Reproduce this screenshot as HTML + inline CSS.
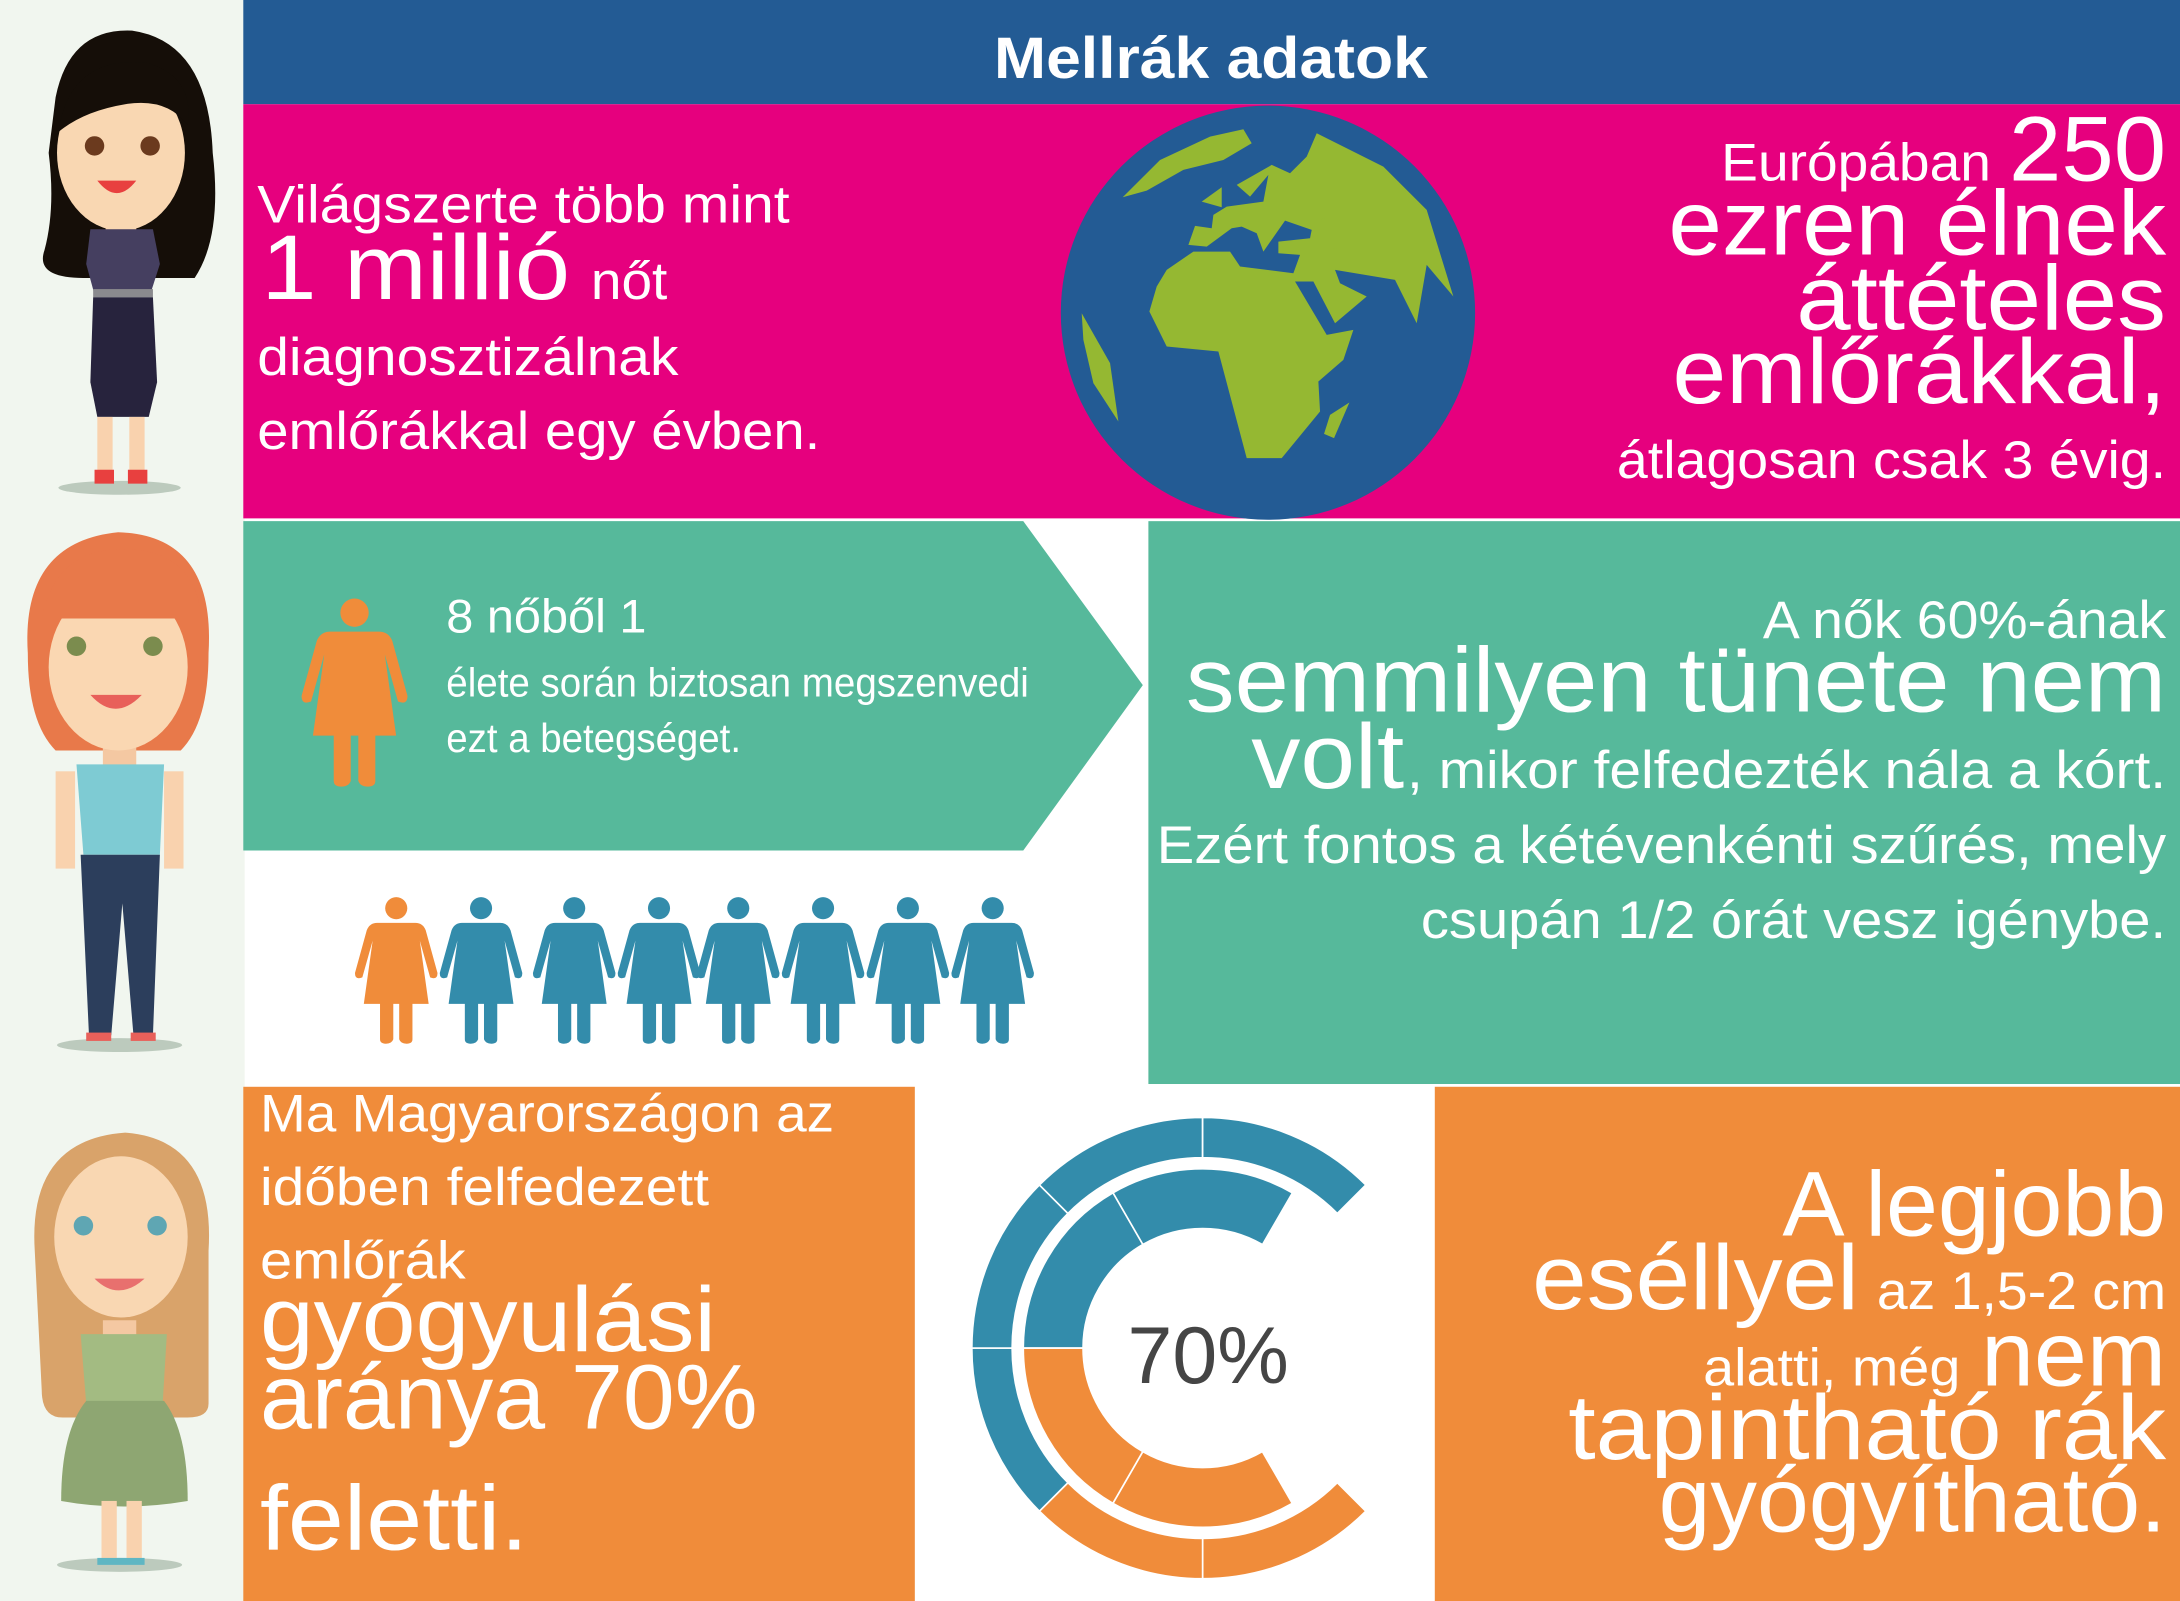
<!DOCTYPE html>
<html><head><meta charset="utf-8">
<style>
html,body{margin:0;padding:0;background:#fff;}
svg{display:block;}
text{font-family:"Liberation Sans",sans-serif;fill:#fff;}
</style></head>
<body>
<svg id="root" width="2180" height="1601" viewBox="0 0 1568 1152" preserveAspectRatio="none" xmlns="http://www.w3.org/2000/svg">
<!-- left column -->
<rect x="0" y="0" width="176" height="1152" fill="#f1f6ef"/>
<!-- header -->
<rect x="175" y="0" width="1393" height="75" fill="#235b94"/>
<text x="871" y="56" font-size="42" font-weight="bold" text-anchor="middle" textLength="312" lengthAdjust="spacingAndGlyphs">Mellrák adatok</text>
<!-- pink section -->
<rect x="175" y="75" width="1393" height="298" fill="#e6007e"/>
<g>
<text x="185" y="160" font-size="38" textLength="383" lengthAdjust="spacingAndGlyphs">Világszerte több mint</text>
<text x="188" y="215" font-size="66" textLength="222" lengthAdjust="spacingAndGlyphs">1 millió</text>
<text x="425" y="215" font-size="38" textLength="55" lengthAdjust="spacingAndGlyphs">nőt</text>
<text x="185" y="270" font-size="38" textLength="303" lengthAdjust="spacingAndGlyphs">diagnosztizálnak</text>
<text x="185" y="323" font-size="38" textLength="405" lengthAdjust="spacingAndGlyphs">emlőrákkal egy évben.</text>
</g>
<g>
<circle cx="912" cy="225" r="149" fill="#235b94"/>
<g transform="scale(0.7193) translate(1050,100) scale(0.3333)" fill="#95b832">
<polygon points="430,455 540,455 570,500 730,520 750,465 685,460 685,425 780,415 785,390 705,362 640,455 620,400 575,380 545,385 470,440 415,435 435,378 485,385 490,345 530,320 640,305 655,225 600,290 560,255 665,195 720,220 770,170 800,100 1000,200 1130,330 1210,590 1130,495 1100,670 1035,540 855,510 870,550 950,590 855,670 790,545 735,545 830,705 910,690 880,780 805,845 810,935 695,1075 590,1075 505,755 350,740 298,635 320,560 350,510"/>
<polygon points="218,292 290,272 400,210 520,180 605,130 580,88 480,110 330,180"/>
<polygon points="455,305 515,262 515,322"/>
<polygon points="95,640 180,790 205,965 130,850 100,720"/>
<polygon points="840,945 898,908 852,1015 822,1002"/>
<polygon points="808,360 835,352 878,440 850,447"/>
</g>
</g>
<g text-anchor="end">
<text x="1432" y="130" font-size="38" textLength="194" lengthAdjust="spacingAndGlyphs">Európában</text>
<text x="1558" y="130" font-size="66" textLength="113" lengthAdjust="spacingAndGlyphs">250</text>
<text x="1558" y="183" font-size="66" textLength="358" lengthAdjust="spacingAndGlyphs">ezren élnek</text>
<text x="1558" y="237" font-size="66" textLength="266" lengthAdjust="spacingAndGlyphs">áttételes</text>
<text x="1558" y="290" font-size="66" textLength="355" lengthAdjust="spacingAndGlyphs">emlőrákkal,</text>
<text x="1558" y="344" font-size="38" textLength="395" lengthAdjust="spacingAndGlyphs">átlagosan csak 3 évig.</text>
</g>
<!-- teal arrow -->
<polygon points="175,375 736,375 822,493 736,612 175,612" fill="#56b99b"/>
<rect x="826" y="375" width="742" height="405" fill="#56b99b"/>
<g>
<text x="321" y="455" font-size="34" textLength="144" lengthAdjust="spacingAndGlyphs">8 nőből 1</text>
<text x="321" y="501" font-size="29" textLength="419" lengthAdjust="spacingAndGlyphs">élete során biztosan megszenvedi</text>
<text x="321" y="541" font-size="29" textLength="212" lengthAdjust="spacingAndGlyphs">ezt a betegséget.</text>
</g>
<g id="icons"></g>
<g text-anchor="end">
<text x="1558" y="459" font-size="38" textLength="290" lengthAdjust="spacingAndGlyphs">A nők 60%-ának</text>
<text x="1558" y="512" font-size="66" textLength="705" lengthAdjust="spacingAndGlyphs">semmilyen tünete nem</text>
<text x="1010" y="567" font-size="66" textLength="110" lengthAdjust="spacingAndGlyphs">volt</text>
<text x="1558" y="567" font-size="38" textLength="546" lengthAdjust="spacingAndGlyphs">, mikor felfedezték nála a kórt.</text>
<text x="1558" y="621" font-size="38" textLength="726" lengthAdjust="spacingAndGlyphs">Ezért fontos a kétévenkénti szűrés, mely</text>
<text x="1558" y="675" font-size="38" textLength="536" lengthAdjust="spacingAndGlyphs">csupán 1/2 órát vesz igénybe.</text>
</g>
<!-- bottom -->
<rect x="175" y="782" width="483" height="370" fill="#f08c3a"/>
<rect x="1032" y="782" width="536" height="370" fill="#f08c3a"/>
<g>
<text x="187" y="814" font-size="38" textLength="413" lengthAdjust="spacingAndGlyphs">Ma Magyarországon az</text>
<text x="187" y="867" font-size="38" textLength="323" lengthAdjust="spacingAndGlyphs">időben felfedezett</text>
<text x="187" y="920" font-size="38" textLength="148" lengthAdjust="spacingAndGlyphs">emlőrák</text>
<text x="187" y="972" font-size="66" textLength="328" lengthAdjust="spacingAndGlyphs">gyógyulási</text>
<text x="187" y="1028" font-size="66" textLength="358" lengthAdjust="spacingAndGlyphs">aránya 70%</text>
<text x="187" y="1115" font-size="66" textLength="193" lengthAdjust="spacingAndGlyphs">feletti.</text>
</g>
<g text-anchor="end">
<text x="1558" y="889" font-size="66" textLength="276" lengthAdjust="spacingAndGlyphs">A legjobb</text>
<text x="1337" y="942" font-size="66" textLength="235" lengthAdjust="spacingAndGlyphs">eséllyel</text>
<text x="1558" y="942" font-size="38" textLength="208" lengthAdjust="spacingAndGlyphs">az 1,5-2 cm</text>
<text x="1410" y="997" font-size="38" textLength="185" lengthAdjust="spacingAndGlyphs">alatti, még</text>
<text x="1558" y="997" font-size="66" textLength="133" lengthAdjust="spacingAndGlyphs">nem</text>
<text x="1558" y="1050" font-size="66" textLength="430" lengthAdjust="spacingAndGlyphs">tapintható rák</text>
<text x="1558" y="1102" font-size="66" textLength="365" lengthAdjust="spacingAndGlyphs">gyógyítható.</text>
</g>
<g id="donut"></g>
<text x="869" y="995" font-size="58" text-anchor="middle" style="fill:#454545">70%</text>

<!-- person 1 -->
<g>
<ellipse cx="86" cy="351" rx="44" ry="5" fill="#bccabd"/>
<path d="M40,70 Q50,20 95,22 Q150,30 153,110 Q160,170 140,200 L120,200 L60,200 Q25,200 32,180 Q40,150 35,110 Z" fill="#150e08"/>
<rect x="76" y="145" width="22" height="30" fill="#f4c8a2"/>
<ellipse cx="87" cy="110" rx="46" ry="56" fill="#f9d7b2"/>
<path d="M42,95 Q50,40 105,45 Q140,55 135,90 Q120,70 90,75 Q60,80 42,95Z" fill="#150e08"/>
<circle cx="68" cy="105" r="7" fill="#6b3a1e"/><circle cx="108" cy="105" r="7" fill="#6b3a1e"/>
<path d="M70,130 Q84,148 98,130 Z" fill="#e8403f"/>
<path d="M65,165 L110,165 L115,190 L108,212 L68,212 L62,190 Z" fill="#453f60"/>
<rect x="67" y="208" width="43" height="6" fill="#8a8a8e"/>
<path d="M67,214 L110,214 L113,275 L107,300 L70,300 L65,275 Z" fill="#27233d"/>
<rect x="70" y="300" width="11" height="42" fill="#f9d2ae"/><rect x="93" y="300" width="11" height="42" fill="#f9d2ae"/>
<rect x="68" y="338" width="14" height="10" fill="#e8403f"/><rect x="92" y="338" width="14" height="10" fill="#e8403f"/>
</g>
<!-- person 2 -->
<g>
<ellipse cx="86" cy="752" rx="45" ry="5" fill="#bccabd"/>
<path d="M20,470 Q15,390 85,383 Q155,385 150,470 Q150,520 130,540 L40,540 Q20,520 20,470Z" fill="#e8794a"/>
<rect x="74" y="530" width="24" height="25" fill="#f4c8a2"/>
<ellipse cx="85" cy="480" rx="50" ry="60" fill="#fad7b2"/>
<path d="M30,445 Q40,395 88,395 Q140,395 145,445 Z" fill="#e8794a"/>
<circle cx="55" cy="465" r="7" fill="#7b8c4e"/><circle cx="110" cy="465" r="7" fill="#7b8c4e"/>
<path d="M65,500 Q83,520 102,500 Z" fill="#e8605a"/>
<path d="M55,550 L118,550 L115,615 L60,615 Z" fill="#7ecbd3"/>
<rect x="40" y="555" width="14" height="70" fill="#f9d2ae"/><rect x="118" y="555" width="14" height="70" fill="#f9d2ae"/>
<path d="M58,615 L115,615 L110,745 L96,745 L88,650 L80,745 L64,745 Z" fill="#2c3e5c"/>
<rect x="62" y="743" width="18" height="6" fill="#e8605a"/><rect x="94" y="743" width="18" height="6" fill="#e8605a"/>
</g>
<!-- person 3 -->
<g>
<ellipse cx="86" cy="1126" rx="45" ry="5" fill="#bccabd"/>
<path d="M25,900 Q20,820 90,815 Q155,820 150,900 L150,1010 Q150,1020 135,1020 L45,1020 Q30,1020 30,1000 Z" fill="#d9a36a"/>
<rect x="74" y="950" width="24" height="30" fill="#f4c8a2"/>
<ellipse cx="87" cy="890" rx="48" ry="58" fill="#f9d7b2"/>
<circle cx="60" cy="882" r="7" fill="#5fa6b3"/><circle cx="113" cy="882" r="7" fill="#5fa6b3"/>
<path d="M68,920 Q85,937 104,920 Z" fill="#e8706e"/>
<path d="M58,960 L120,960 L117,1010 L62,1010 Z" fill="#a3bb82"/>
<path d="M62,1008 L118,1008 Q135,1030 135,1080 Q88,1088 44,1080 Q44,1030 62,1008Z" fill="#8ea672"/>
<rect x="73" y="1080" width="11" height="44" fill="#f9d2ae"/><rect x="91" y="1080" width="11" height="44" fill="#f9d2ae"/>
<rect x="70" y="1121" width="34" height="5" fill="#5fb6c3"/>
</g>
</svg>
<script>
// ---- icon data ----
const iconColors = ['#f08c3a','#338cab','#338cab','#338cab','#338cab','#338cab','#338cab','#338cab'];
const iconCenters = [285,346,413,474,531,592,653,714];
// ---- donut data (percent of full circle) ----
const outerValues = [12.5,12.5,12.5,12.5,12.5,12.5];
const outerColors = ['#f08c3a','#f08c3a','#338cab','#338cab','#338cab','#338cab'];
const innerValues = [16.67,16.67,16.67,16.67];
const innerColors = ['#f08c3a','#f08c3a','#338cab','#338cab'];
const centerLabel = ['70%'];

const NS='http://www.w3.org/2000/svg';
function iconPath(cx,top,h){
  const s=h/100, X=v=>cx+v*s, Y=v=>top+v*s;
  return `M${X(-13)},${Y(18)} L${X(13)},${Y(18)} Q${X(18)},${Y(18)} ${X(20)},${Y(23)} L${X(28)},${Y(52)} Q${X(28)},${Y(57)} ${X(23)},${Y(55)} L${X(16)},${Y(30)} L${X(22)},${Y(73)} L${X(11)},${Y(73)} L${X(11)},${Y(97)} Q${X(11)},${Y(100)} ${X(7)},${Y(100)} Q${X(3)},${Y(100)} ${X(2)},${Y(97)} L${X(2)},${Y(73)} L${X(-2)},${Y(73)} L${X(-2)},${Y(97)} Q${X(-3)},${Y(100)} ${X(-7)},${Y(100)} Q${X(-11)},${Y(100)} ${X(-11)},${Y(97)} L${X(-11)},${Y(73)} L${X(-22)},${Y(73)} L${X(-16)},${Y(30)} L${X(-23)},${Y(55)} Q${X(-28)},${Y(57)} ${X(-28)},${Y(52)} L${X(-20)},${Y(23)} Q${X(-18)},${Y(18)} ${X(-13)},${Y(18)} Z`;
}
function addIcon(g,cx,top,h,color,name){
  const grp=document.createElementNS(NS,'g');
  
  
  const c=document.createElementNS(NS,'circle');
  c.setAttribute('cx',cx);c.setAttribute('cy',top+h*0.08);c.setAttribute('r',h*0.075);c.setAttribute('fill',color);
  const p=document.createElementNS(NS,'path');
  p.setAttribute('d',iconPath(cx,top,h));p.setAttribute('fill',color);
  grp.appendChild(c);grp.appendChild(p);g.appendChild(grp);
}
const icons=document.getElementById('icons');
addIcon(icons,255,430,136,'#f08c3a','big-woman-icon');
iconCenters.forEach((cx,i)=>addIcon(icons,cx,645,106,iconColors[i],'woman-icon-'+(i+1)));

// donut
const CX=865, CY=970;
function ang(pct){return pct/100*2*Math.PI;}
function arc(r0,r1,a0,a1){
  const p=(r,a)=>[CX+r*Math.cos(a),CY+r*Math.sin(a)];
  const [x1,y1]=p(r1,a0),[x2,y2]=p(r1,a1),[x3,y3]=p(r0,a1),[x4,y4]=p(r0,a0);
  const lg=(a1-a0)>Math.PI?1:0;
  return `M${x1},${y1} A${r1},${r1} 0 ${lg} 1 ${x2},${y2} L${x3},${y3} A${r0},${r0} 0 ${lg} 0 ${x4},${y4} Z`;
}
const donut=document.getElementById('donut');
function ring(vals,cols,r0,r1,startDeg,name){
  let a=startDeg*Math.PI/180;
  vals.forEach((v,i)=>{
    const a1=a+ang(v);
    const path=document.createElementNS(NS,'path');
    
    
    path.setAttribute('d',arc(r0,r1,a,a1));
    path.setAttribute('fill',cols[i]);
    path.setAttribute('stroke','#fff');
    path.setAttribute('stroke-width','1.2');
    donut.appendChild(path);
    a=a1;
  });
}
ring(outerValues,outerColors,137,166,45,'outer-ring');
ring(innerValues,innerColors,86,129,60,'inner-ring');
</script>
</body></html>
